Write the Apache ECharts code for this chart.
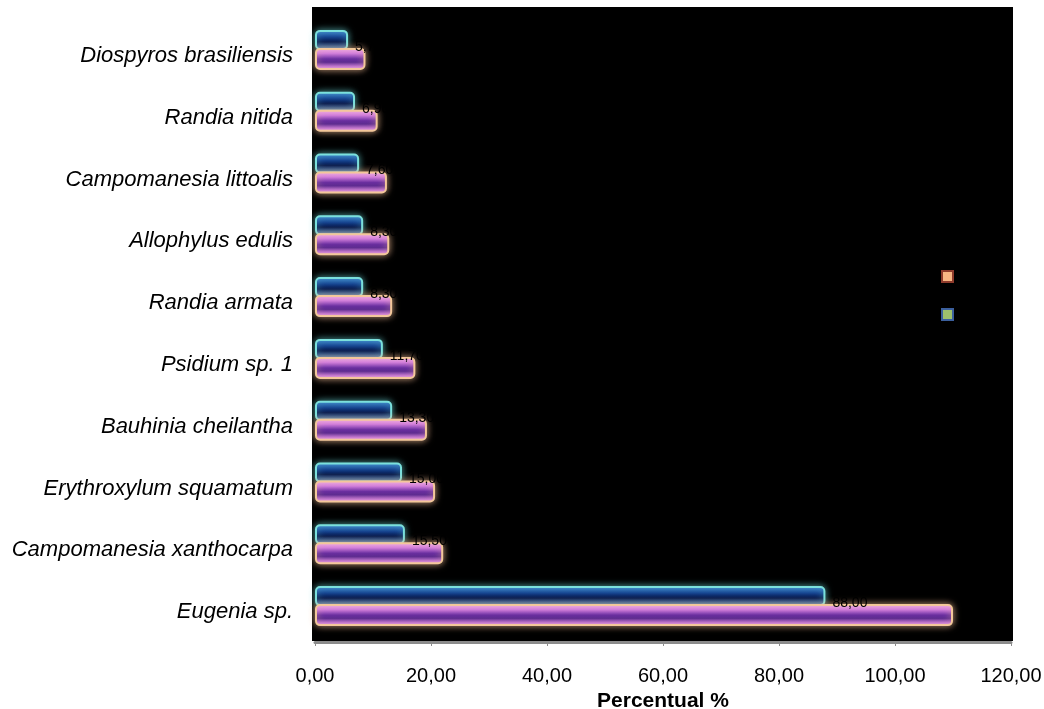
<!DOCTYPE html>
<html>
<head>
<meta charset="utf-8">
<script src="https://cdn.jsdelivr.net/npm/echarts@6/dist/echarts.min.js"></script>
<style>
  html, body { margin: 0; padding: 0; background: #fff; }
  #chart { width: 1044px; height: 709px; }
</style>
</head>
<body>
<div id="chart"></div>
<script>
// Species, listed from the bottom row to the top row
const species = [
  'Eugenia sp.',
  'Campomanesia xanthocarpa',
  'Erythroxylum squamatum',
  'Bauhinia cheilantha',
  'Psidium sp. 1',
  'Randia armata',
  'Allophylus edulis',
  'Campomanesia littoalis',
  'Randia nitida',
  'Diospyros brasiliensis'
];
// Percentages per species (same order as species)
const serie1 = [88.0, 15.5, 15.0, 13.3, 11.7, 8.3, 8.3, 7.6, 6.9, 5.7];
const serie2 = [110.0, 22.1, 20.7, 19.3, 17.3, 13.3, 12.8, 12.4, 10.8, 8.7];
const seriesNames = ['Série1', 'Série2'];
const xTicks = [0, 20, 40, 60, 80, 100, 120];

const fmt = v => Number(v).toFixed(2).replace('.', ',');

// cylinder-like shading across the bar thickness
const blueFill = {
  type: 'linear', x: 0, y: 0, x2: 0, y2: 1,
  colorStops: [
    { offset: 0, color: '#3f88d2' },
    { offset: 0.35, color: '#14408e' },
    { offset: 0.6, color: '#06184c' },
    { offset: 1, color: '#2564b4' }
  ]
};
const pinkFill = {
  type: 'linear', x: 0, y: 0, x2: 0, y2: 1,
  colorStops: [
    { offset: 0, color: '#f4b0f0' },
    { offset: 0.25, color: '#d07ae0' },
    { offset: 0.5, color: '#6a2fa0' },
    { offset: 0.65, color: '#5a2890' },
    { offset: 0.85, color: '#c070d8' },
    { offset: 1, color: '#f4b0ea' }
  ]
};

const chart = echarts.init(document.getElementById('chart'), null, { renderer: 'canvas' });

chart.setOption({
  backgroundColor: '#ffffff',
  animation: false,
  graphic: [{
    type: 'rect',
    z: -10,
    silent: true,
    shape: { x: 312, y: 7, width: 701, height: 634 },
    style: { fill: '#000000' }
  }],
  legend: {
    orient: 'vertical',
    left: 936,
    top: 265,
    itemWidth: 11,
    itemHeight: 11,
    itemGap: 25,
    icon: 'rect',
    textStyle: { color: '#000000', fontSize: 12, fontFamily: 'Liberation Sans' },
    data: [
      { name: seriesNames[1], itemStyle: { color: '#f7b583', borderColor: '#8e3b2c', borderWidth: 2 } },
      { name: seriesNames[0], itemStyle: { color: '#9dc06c', borderColor: '#3b5f9d', borderWidth: 2 } }
    ]
  },
  grid: { left: 315, right: 33, top: 19, bottom: 72, containLabel: false, outerBoundsMode: 'none' },
  xAxis: {
    type: 'value',
    min: xTicks[0],
    max: xTicks[xTicks.length - 1],
    interval: xTicks[1] - xTicks[0],
    offset: 5,
    name: 'Percentual %',
    nameLocation: 'middle',
    nameGap: 48,
    nameTextStyle: { color: '#000000', fontSize: 21, fontWeight: 'bold', fontFamily: 'Liberation Sans' },
    axisLine: { show: true, lineStyle: { color: '#8c8c8c', width: 3 } },
    axisTick: { show: true, length: 4, lineStyle: { color: '#8c8c8c', width: 1 } },
    splitLine: { show: false },
    axisLabel: {
      color: '#000000', fontSize: 20, fontFamily: 'Liberation Sans', margin: 24,
      formatter: fmt
    }
  },
  yAxis: {
    type: 'category',
    data: species,
    axisLine: { show: false },
    axisTick: { show: false },
    splitLine: { show: false },
    axisLabel: {
      color: '#000000', fontSize: 22, fontStyle: 'italic', fontFamily: 'Liberation Sans',
      margin: 22, verticalAlign: 'top', lineHeight: 12
    }
  },
  series: [
    {
      name: seriesNames[0],
      type: 'bar',
      data: serie1,
      barWidth: 20,
      barGap: '-10%',
      itemStyle: {
        color: blueFill,
        borderColor: '#7be0dc',
        borderWidth: 2,
        borderRadius: 4,
        shadowBlur: 7,
        shadowColor: 'rgba(110,220,220,0.65)'
      },
      label: {
        show: true,
        position: 'right',
        offset: [2, 7],
        color: '#000000',
        fontSize: 14,
        fontFamily: 'Liberation Sans',
        formatter: p => fmt(p.value)
      }
    },
    {
      name: seriesNames[1],
      type: 'bar',
      data: serie2,
      barWidth: 22,
      barGap: '-10%',
      itemStyle: {
        color: pinkFill,
        borderColor: '#f3c79a',
        borderWidth: 2,
        borderRadius: 4,
        shadowBlur: 7,
        shadowColor: 'rgba(243,190,150,0.75)'
      }
    }
  ]
});
</script>
</body>
</html>
